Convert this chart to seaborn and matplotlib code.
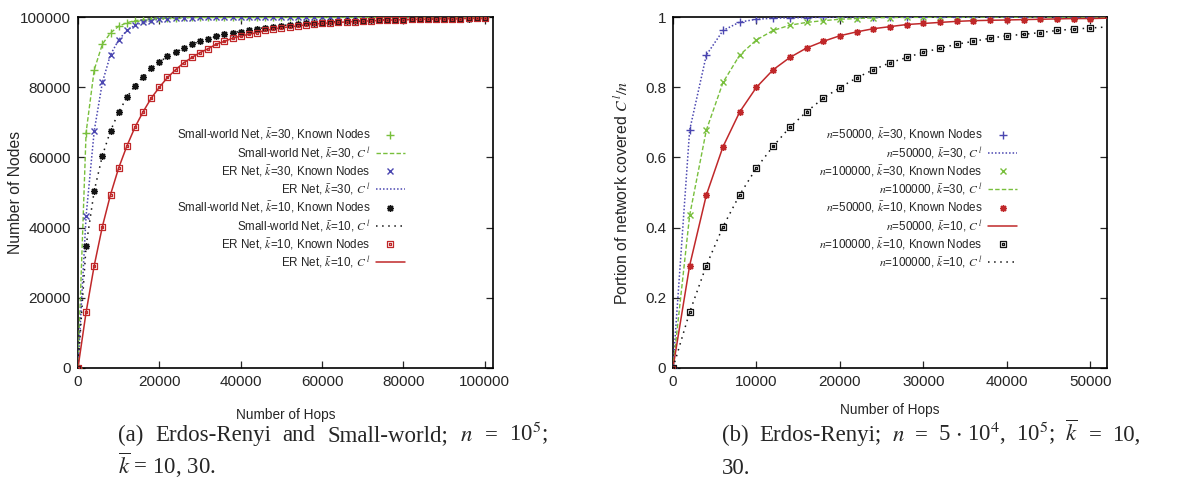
import numpy as np
import matplotlib
matplotlib.use("Agg")
import matplotlib.pyplot as plt
from matplotlib.path import Path
import seaborn as sns

sns.set_theme(style="ticks")
plt.rcParams["font.family"] = ["Liberation Sans", "DejaVu Sans"]
plt.rcParams["mathtext.fontset"] = "stix"

# ---------------- data: panel (a), n = 1e5 ----------------
hops_a = [0, 2000, 4000, 6000, 8000, 10000, 12000, 14000, 16000, 18000,
          20000, 22000, 24000, 26000, 28000, 30000, 32000, 34000, 36000, 38000,
          40000, 42000, 44000, 46000, 48000, 50000, 52000, 54000, 56000, 58000,
          60000, 62000, 64000, 66000, 68000, 70000, 72000, 74000, 76000, 78000,
          80000, 82000, 84000, 86000, 88000, 90000, 92000, 94000, 96000, 98000,
          100000]

sw30 = [0, 67100, 85000, 92300, 95500, 97400, 98400, 99000, 99300, 99600,
        99750, 99850, 99900, 99930, 99950, 99970, 99980, 99990, 99990, 99995,
        100000, 100000, 100000, 100000, 100000, 100000, 100000, 100000, 100000, 100000,
        100000, 100000, 100000, 100000, 100000, 100000, 100000, 100000, 100000, 100000,
        100000, 100000, 100000, 100000, 100000, 100000, 100000, 100000, 100000, 100000,
        100000]

er30 = [0, 43300, 67600, 81400, 89300, 93500, 96200, 97700, 98500, 99000,
        99400, 99600, 99750, 99850, 99900, 99930, 99950, 99970, 99980, 99990,
        99990, 99995, 100000, 100000, 100000, 100000, 100000, 100000, 100000, 100000,
        100000, 100000, 100000, 100000, 100000, 100000, 100000, 100000, 100000, 100000,
        100000, 100000, 100000, 100000, 100000, 100000, 100000, 100000, 100000, 100000,
        100000]

sw10 = [0, 34800, 50500, 60500, 67600, 72900, 77100, 80500, 83000, 85400,
        87200, 88800, 90000, 91100, 92300, 93100, 93800, 94500, 95100, 95600,
        95900, 96400, 96700, 97000, 97300, 97600, 97800, 98000, 98200, 98300,
        98450, 98600, 98700, 98800, 98900, 99000, 99100, 99150, 99200, 99250,
        99300, 99350, 99400, 99450, 99500, 99520, 99550, 99580, 99600, 99620,
        99650]

er10 = [0, 15900, 29200, 40300, 49400, 57000, 63200, 68600, 73000, 76900,
        80000, 82800, 85000, 87000, 88500, 89900, 91000, 92300, 93100, 94000,
        94600, 95100, 95600, 96200, 96600, 97000, 97200, 97500, 97800, 98000,
        98200, 98350, 98500, 98650, 98750, 98850, 98950, 99050, 99150, 99200,
        99280, 99350, 99400, 99450, 99500, 99530, 99560, 99590, 99620, 99640,
        99660]

# ---------------- data: panel (b), ER networks ----------------
hops_b = [0, 2000, 4000, 6000, 8000, 10000, 12000, 14000, 16000, 18000,
          20000, 22000, 24000, 26000, 28000, 30000, 32000, 34000, 36000, 38000,
          40000, 42000, 44000, 46000, 48000, 50000]
hops_b_curve = hops_b + [52000]

n50k_k30 = [0, 0.678, 0.892, 0.962, 0.986, 0.994, 0.997, 0.998, 0.999, 0.9995,
            1.0, 1.0, 1.0, 1.0, 1.0, 1.0, 1.0, 1.0, 1.0, 1.0,
            1.0, 1.0, 1.0, 1.0, 1.0, 1.0]
n50k_k30_c = n50k_k30 + [1.0]

n100k_k30 = [0, 0.435, 0.678, 0.814, 0.892, 0.935, 0.962, 0.977, 0.985, 0.990,
             0.994, 0.996, 0.998, 0.999, 0.9993, 0.9995, 0.9997, 0.9998, 0.9999, 1.0,
             1.0, 1.0, 1.0, 1.0, 1.0, 1.0]
n100k_k30_c = n100k_k30 + [1.0]

n50k_k10 = [0, 0.292, 0.493, 0.631, 0.730, 0.800, 0.850, 0.885, 0.912, 0.931,
            0.947, 0.958, 0.967, 0.973, 0.979, 0.982, 0.985, 0.988, 0.990, 0.991,
            0.992, 0.993, 0.994, 0.995, 0.996, 0.996]
n50k_k10_c = n50k_k10 + [0.997]

n100k_k10 = [0, 0.159, 0.292, 0.403, 0.494, 0.570, 0.632, 0.686, 0.730, 0.769,
             0.799, 0.827, 0.850, 0.870, 0.885, 0.900, 0.911, 0.923, 0.931, 0.940,
             0.947, 0.951, 0.956, 0.962, 0.966, 0.969]
n100k_k10_c = n100k_k10 + [0.972]

# ---------------- styling ----------------
GREEN = "#78bf3c"
BLUE = "#4a46b0"
BLACK = "#141414"
RED = "#c0282a"

# gnuplot-like markers
STAR = (8, 2, 0)
_o, _i = 1.0, 0.18
BOXDOT = Path(
    [(-_o, -_o), (_o, -_o), (_o, _o), (-_o, _o), (-_o, -_o),
     (-_i, -_i), (_i, -_i), (_i, _i), (-_i, _i), (-_i, -_i)],
    [Path.MOVETO, Path.LINETO, Path.LINETO, Path.LINETO, Path.CLOSEPOLY,
     Path.MOVETO, Path.LINETO, Path.LINETO, Path.LINETO, Path.CLOSEPOLY])

DASHED = (0, (3.2, 1.6))
DOTTED = (0, (1.0, 1.3))
SPARSE = (0, (1.0, 3.0))

KB = r"$\bar{k}$"
CL = r"$C^{\,l}$"


def draw_series(ax, x_pts, y_pts, x_curve, y_curve, color, marker, ms, mew,
                ls, lw, label_pts, label_curve):
    sns.lineplot(x=x_pts, y=y_pts, ax=ax, color=color, linestyle="none",
                 marker=marker, markersize=ms, markeredgewidth=mew,
                 markerfacecolor="none", markeredgecolor=color,
                 label=label_pts, zorder=4)
    sns.lineplot(x=x_curve, y=y_curve, ax=ax, color=color, linestyle=ls,
                 linewidth=lw, label=label_curve, zorder=3)


fig = plt.figure(figsize=(12.03, 4.90), dpi=100)
ax_a = fig.add_axes([0.0648, 0.249, 0.345, 0.716])
ax_b = fig.add_axes([0.5594, 0.249, 0.3608, 0.716])

# panel (a)
series_a = [
    (sw30, GREEN, "+", 5.5, 1.0, DASHED, 1.0, "Small-world Net"),
    (er30, BLUE, "x", 4.6, 1.0, DOTTED, 1.1, "ER Net"),
    (sw10, BLACK, STAR, 5.0, 1.0, SPARSE, 1.1, "Small-world Net"),
    (er10, RED, BOXDOT, 5.0, 0.9, "-", 1.1, "ER Net"),
]
kvals_a = [30, 30, 10, 10]
for (ys, col, mk, ms, mew, ls, lw, name), kv in zip(series_a, kvals_a):
    draw_series(ax_a, hops_a, ys, hops_a, ys, col, mk, ms, mew, ls, lw,
                f"{name}, {KB}={kv}, Known Nodes",
                f"{name}, {KB}={kv}, {CL}")

# panel (b)
series_b = [
    (n50k_k30, n50k_k30_c, BLUE, "+", 5.5, 1.0, DOTTED, 1.1, 50000, 30),
    (n100k_k30, n100k_k30_c, GREEN, "x", 4.6, 1.0, DASHED, 1.0, 100000, 30),
    (n50k_k10, n50k_k10_c, RED, STAR, 5.0, 1.0, "-", 1.1, 50000, 10),
    (n100k_k10, n100k_k10_c, BLACK, BOXDOT, 5.0, 0.9, SPARSE, 1.1, 100000, 10),
]
for ys, yc, col, mk, ms, mew, ls, lw, nv, kv in series_b:
    draw_series(ax_b, hops_b, ys, hops_b_curve, yc, col, mk, ms, mew, ls, lw,
                f"$n$={nv}, {KB}={kv}, Known Nodes",
                f"$n$={nv}, {KB}={kv}, {CL}")

# axes cosmetics
ax_a.set_xlim(0, 102000)
ax_a.set_ylim(0, 100000)
ax_a.set_xticks([0, 20000, 40000, 60000, 80000, 100000])
ax_a.set_yticks([0, 20000, 40000, 60000, 80000, 100000])
ax_a.set_xticklabels(["0", "20000", "40000", "60000", "80000", "100000"])
ax_a.set_yticklabels(["0", "20000", "40000", "60000", "80000", "100000"])
ax_a.set_xlabel("Number of Hops", fontsize=9.8)
ax_a.set_ylabel("Number of Nodes", fontsize=11.3)
ax_a.xaxis.set_label_coords(0.5, -0.114)
ax_a.yaxis.set_label_coords(-0.1325, 0.5)

ax_b.set_xlim(0, 52000)
ax_b.set_ylim(0, 1.0)
ax_b.set_xticks([0, 10000, 20000, 30000, 40000, 50000])
ax_b.set_yticks([0, 0.2, 0.4, 0.6, 0.8, 1.0])
ax_b.set_xticklabels(["0", "10000", "20000", "30000", "40000", "50000"])
ax_b.set_yticklabels(["0", "0.2", "0.4", "0.6", "0.8", "1"])
ax_b.set_xlabel("Number of Hops", fontsize=9.8)
ax_b.set_ylabel(r"Portion of network covered $C^{\,l}/n$", fontsize=11.4)
ax_b.xaxis.set_label_coords(0.5, -0.10)
ax_b.yaxis.set_label_coords(-0.0995, 0.5)

for ax in (ax_a, ax_b):
    ax.tick_params(direction="in", length=5, width=0.9, top=True, right=True,
                   labelsize=11, pad=5)
    for sp in ax.spines.values():
        sp.set_visible(True)
        sp.set_linewidth(1.2)
        sp.set_color("black")
    ax.margins(0)

legend_kw = dict(frameon=False, markerfirst=False, fontsize=8.4,
                 handlelength=2.5, handletextpad=0.45, labelspacing=0.24,
                 borderpad=0, borderaxespad=0, loc="upper right")
ax_a.legend(bbox_to_anchor=(0.788, 0.686), **legend_kw)
ax_b.legend(bbox_to_anchor=(0.793, 0.686), **legend_kw)

# captions, first line of each set justified between two edges
cap_kw = dict(family=["Liberation Serif", "DejaVu Serif"], fontsize=16.5,
              va="baseline")
W, H = 1203.0, 490.0
renderer = fig.canvas.get_renderer()


def justified(words, x0, x1, y):
    texts = [fig.text(0, y / H, w, ha="left", **cap_kw) for w in words]
    widths = [t.get_window_extent(renderer).width for t in texts]
    gap = (x1 - x0 - sum(widths)) / (len(words) - 1)
    x = x0
    for t, w in zip(texts, widths):
        t.set_x(x / W)
        x += w + gap


justified(["(a)", "Erdos-Renyi", "and", "Small-world;", "$n$", "=", "10$^5$;"],
          118, 548, H - 441)
fig.text(118 / W, 1 - 474 / H, r"$\overline{k}$ = 10, 30.", ha="left", **cap_kw)
justified(["(b)", "Erdos-Renyi;", "$n$", "=", r"5 $\cdot$ 10$^4$,", "10$^5$;",
           r"$\overline{k}$", "=", "10,"],
          722, 1140, H - 441)
fig.text(722 / W, 1 - 474 / H, "30.", ha="left", **cap_kw)

fig.savefig("out.png", dpi=100)
